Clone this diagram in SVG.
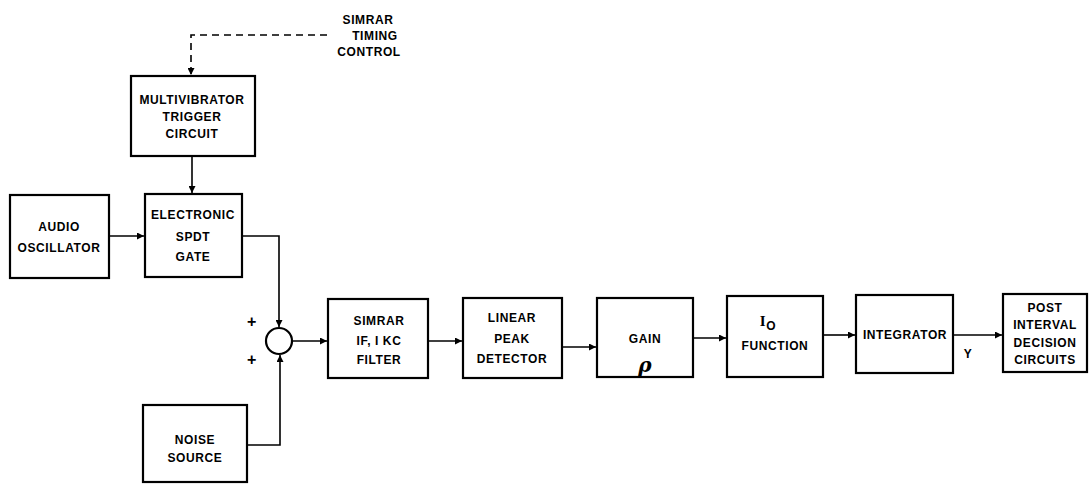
<svg xmlns="http://www.w3.org/2000/svg" width="1089" height="485" viewBox="0 0 1089 485">
<defs>
<marker id="ah" viewBox="0 0 10 10" refX="10" refY="5" markerWidth="7" markerHeight="7" markerUnits="userSpaceOnUse" orient="auto"><path d="M0,0 L10,5 L0,10 Z" fill="#000"/></marker>
<style>
.box{fill:#fff;stroke:#000;stroke-width:2.2}
.t{font-family:"Liberation Sans",Arial,sans-serif;font-weight:bold;font-size:12px;letter-spacing:0.6px;text-anchor:middle;fill:#000}
.c{fill:none;stroke:#000;stroke-width:1.6}
.d{fill:none;stroke:#000;stroke-width:1.6;stroke-dasharray:7,5}
</style>
</defs>
<rect width="1089" height="485" fill="#fff"/>
<g id="timing">
<text class="t" x="368" y="24">SIMRAR</text>
<text class="t" x="375" y="40">TIMING</text>
<text class="t" x="369" y="56">CONTROL</text>
</g>
<g id="multivibrator"><rect class="box" x="131" y="76" width="124" height="80"/>
<text class="t" x="192" y="104">MULTIVIBRATOR</text><text class="t" x="192" y="121">TRIGGER</text><text class="t" x="192" y="138">CIRCUIT</text></g>
<g id="audio"><rect class="box" x="10" y="195" width="99" height="83"/>
<text class="t" x="59" y="231">AUDIO</text><text class="t" x="59" y="252">OSCILLATOR</text></g>
<g id="gate"><rect class="box" x="145" y="194" width="97" height="83"/>
<text class="t" x="193" y="219">ELECTRONIC</text><text class="t" x="193" y="241">SPDT</text><text class="t" x="193" y="261">GATE</text></g>
<g id="sum"><circle cx="279" cy="341" r="13" fill="#fff" stroke="#000" stroke-width="2.2"/>
<text class="t" x="252" y="327" style="font-size:16px">+</text><text class="t" x="252" y="365" style="font-size:16px">+</text></g>
<g id="noise"><rect class="box" x="143" y="405" width="104" height="77"/>
<text class="t" x="195" y="444">NOISE</text><text class="t" x="195" y="462">SOURCE</text></g>
<g id="filter"><rect class="box" x="328" y="299" width="100" height="79"/>
<text class="t" x="379" y="325">SIMRAR</text><text class="t" x="379" y="345">IF, I KC</text><text class="t" x="379" y="364">FILTER</text></g>
<g id="detector"><rect class="box" x="463" y="298" width="99" height="80"/>
<text class="t" x="512" y="322">LINEAR</text><text class="t" x="512" y="343">PEAK</text><text class="t" x="512" y="363">DETECTOR</text></g>
<g id="gain"><rect class="box" x="597" y="298" width="96" height="79"/>
<text class="t" x="645" y="343">GAIN</text><text x="645" y="372" style="font-family:'DejaVu Serif',serif;font-style:italic;font-weight:bold;font-size:20px;text-anchor:middle">ρ</text></g>
<g id="io"><rect class="box" x="727" y="296" width="96" height="81"/>
<text class="t" x="768" y="326" style="font-size:15px;font-family:'Liberation Serif',serif">I<tspan style="font-size:12px;font-family:'Liberation Sans',sans-serif" dy="4">O</tspan></text><text class="t" x="775" y="350">FUNCTION</text></g>
<g id="integrator"><rect class="box" x="856" y="295" width="97" height="78"/>
<text class="t" x="905" y="339">INTEGRATOR</text></g>
<g id="post"><rect class="box" x="1003" y="294" width="84" height="78"/>
<text class="t" x="1045" y="312">POST</text><text class="t" x="1045" y="329">INTERVAL</text><text class="t" x="1045" y="347">DECISION</text><text class="t" x="1045" y="364">CIRCUITS</text></g>
<g id="connectors">
<path class="d" d="M327,35 H191 V75" marker-end="url(#ah)"/>
<path class="c" d="M192,156 V193" marker-end="url(#ah)"/>
<path class="c" d="M109,236 H144" marker-end="url(#ah)"/>
<path class="c" d="M242,236 H279 V327" marker-end="url(#ah)"/>
<path class="c" d="M247,445 H280 V355" marker-end="url(#ah)"/>
<path class="c" d="M292,341 H327" marker-end="url(#ah)"/>
<path class="c" d="M428,341 H462" marker-end="url(#ah)"/>
<path class="c" d="M562,347 H596" marker-end="url(#ah)"/>
<path class="c" d="M693,338 H726" marker-end="url(#ah)"/>
<path class="c" d="M823,335 H855" marker-end="url(#ah)"/>
<path class="c" d="M953,335 H1002" marker-end="url(#ah)"/>
<text class="t" x="968" y="358">Y</text>
</g>
</svg>
